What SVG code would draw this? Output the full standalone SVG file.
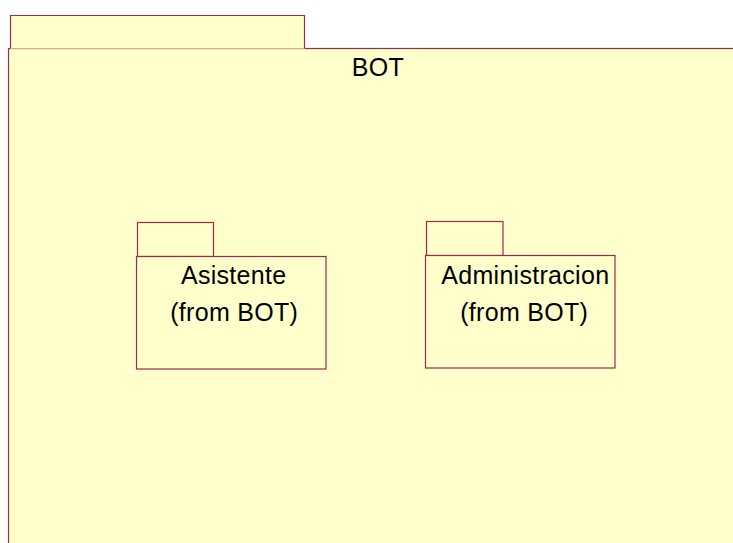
<svg xmlns="http://www.w3.org/2000/svg" width="733" height="543" viewBox="0 0 733 543">
<style>
.pkg{fill:#ffffcc;stroke:#a0284a;stroke-width:1.2}
.inner{stroke:#d8a890;stroke-width:1;fill:none}
.lbl{font-family:"Liberation Sans",Arial,sans-serif;font-size:25px;letter-spacing:0.3px;fill:#000;text-anchor:middle}
</style>
<rect width="733" height="543" fill="#ffffff"/>
<g id="BOT">
<rect class="pkg" x="8.5" y="48.5" width="740" height="510"/>
<path class="pkg" d="M10.5 48.5 V15.5 H304.5 V48.5"/>
<line class="inner" x1="10.5" y1="48.5" x2="304.5" y2="48.5"/>
<text class="lbl" x="378" y="76">BOT</text>
</g>
<g id="Asistente">
<rect class="pkg" x="137.5" y="222.5" width="76" height="34"/>
<rect class="pkg" x="136.5" y="256.5" width="189.5" height="112.5"/>
<text class="lbl" x="233.7" y="284">Asistente</text>
<text class="lbl" x="234.2" y="321">(from BOT)</text>
</g>
<g id="Administracion">
<rect class="pkg" x="426.5" y="221.5" width="76.5" height="34"/>
<rect class="pkg" x="425.5" y="255.5" width="189.5" height="112.5"/>
<text class="lbl" x="525.3" y="284">Administracion</text>
<text class="lbl" x="524.2" y="321">(from BOT)</text>
</g>
<g id="connectors"/>
</svg>
